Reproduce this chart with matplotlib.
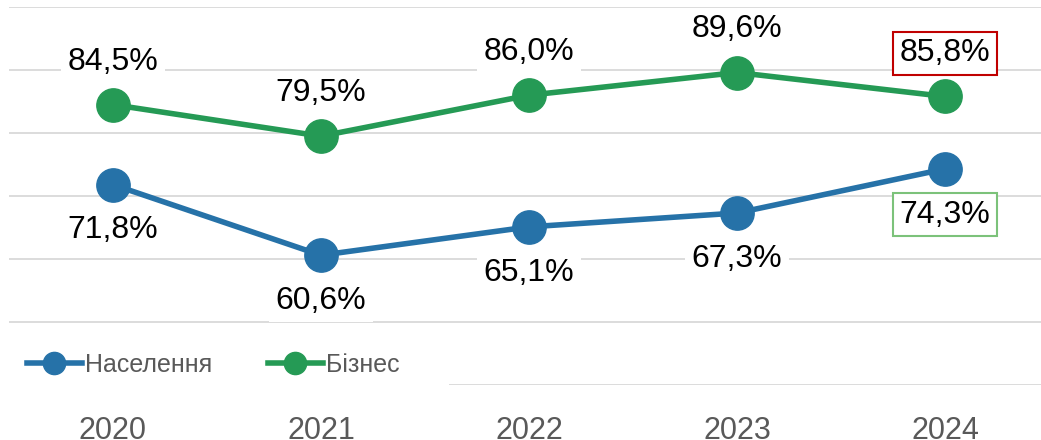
import matplotlib
matplotlib.use("Agg")
import matplotlib.pyplot as plt
from matplotlib.lines import Line2D
from matplotlib.patches import Rectangle
import matplotlib.transforms as mtransforms

years = ["2020", "2021", "2022", "2023", "2024"]
population = [71.8, 60.6, 65.1, 67.3, 74.3]
business = [84.5, 79.5, 86.0, 89.6, 85.8]
series_names = ["Населення", "Бізнес"]

blue = "#2672A8"
green = "#259A55"
grid_col = "#D9D9D9"
text_grey = "#595959"

plt.rcParams['font.family'] = ['Liberation Sans', 'DejaVu Sans']

fig = plt.figure(figsize=(10.41, 4.40), dpi=100)
# plot area runs a little past the right edge, like the source layout
ax = fig.add_axes([9 / 1041, 55 / 440, 1040 / 1041, 378 / 440])

x = list(range(len(years)))
ax.set_xlim(-0.5, 4.5)
ax.set_ylim(40, 100)
ax.set_yticks(range(40, 101, 10))
ax.yaxis.grid(True, color=grid_col, linewidth=1.3, zorder=0)
ax.set_axisbelow(True)
for s in ax.spines.values():
    s.set_visible(False)
ax.tick_params(axis='y', left=False, labelleft=False)
ax.tick_params(axis='x', length=0, pad=22, labelsize=22, labelcolor=text_grey)
ax.set_xticks(x)
ax.set_xticklabels(years)

ax.plot(x, population, color=blue, lw=4, marker='o', ms=24, zorder=3, clip_on=False)
ax.plot(x, business, color=green, lw=4, marker='o', ms=24, zorder=3, clip_on=False)

# white strip behind the legend hides the bottom gridline
trans = mtransforms.blended_transform_factory(fig.transFigure, ax.transData)
ax.add_patch(Rectangle((0, 38), 449 / 1041, 9, transform=trans,
                       facecolor='white', edgecolor='none', zorder=1, clip_on=False))

label_font = dict(fontsize=23, color='black', ha='center', va='center', zorder=5)
for i, v in enumerate(business):
    edge = '#C00000' if i == len(business) - 1 else 'none'
    ax.annotate(f"{v:.1f}%".replace('.', ','), (i, v), xytext=(0, 31),
                textcoords='offset points',
                bbox=dict(boxstyle='square,pad=0.2', facecolor='white', edgecolor=edge, lw=1.5),
                **label_font)
for i, v in enumerate(population):
    edge = '#7CC27A' if i == len(population) - 1 else 'none'
    ax.annotate(f"{v:.1f}%".replace('.', ','), (i, v), xytext=(0, -33),
                textcoords='offset points',
                bbox=dict(boxstyle='square,pad=0.2', facecolor='white', edgecolor=edge, lw=1.5),
                **label_font)

handles = [Line2D([], [], color=blue, lw=4, marker='o', ms=16),
           Line2D([], [], color=green, lw=4, marker='o', ms=16)]
leg = fig.legend(handles, series_names, loc='center left', bbox_to_anchor=(14 / 1041, 1 - 365 / 440),
                 ncol=2, frameon=False, fontsize=18, handlelength=2.2, handletextpad=0.15,
                 columnspacing=2.2, borderpad=0)
for t in leg.get_texts():
    t.set_color(text_grey)

fig.savefig("out.png", dpi=100)
